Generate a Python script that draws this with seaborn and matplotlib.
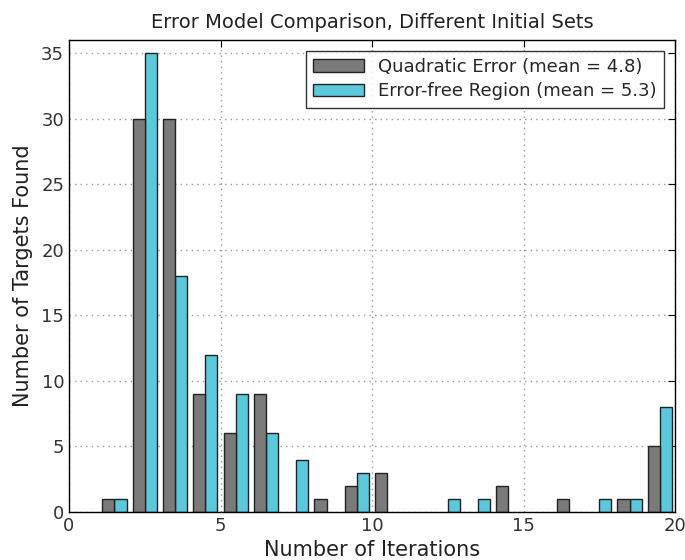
import numpy as np
import pandas as pd
import matplotlib
matplotlib.use('Agg')
from matplotlib import pyplot as plt
import seaborn as sns

sns.set_style('white')
plt.rcParams['font.family'] = ['DejaVu Sans']

# histogram bins: integer iteration counts, bin left edges 1..19
bin_left = list(range(1, 20))
quadratic_counts = [1, 30, 30, 9, 6, 9, 0, 1, 2, 3, 0, 0, 0, 2, 0, 1, 0, 1, 5]
errorfree_counts = [1, 35, 18, 12, 9, 6, 4, 0, 3, 0, 0, 1, 1, 0, 0, 0, 1, 1, 8]
labels = ['Quadratic Error (mean = 4.8)', 'Error-free Region (mean = 5.3)']
colors = ['#7a7a7a', '#5bc8dc']

rows = []
for lab, counts in zip(labels, [quadratic_counts, errorfree_counts]):
    for b, c in zip(bin_left, counts):
        rows.append({'iter': b + 0.5, 'count': c, 'model': lab})
df = pd.DataFrame(rows)

fig = plt.figure(figsize=(6.85, 5.6), dpi=100)
ax = fig.add_axes([69 / 685, 1 - 512 / 560, 606 / 685, 472 / 560])

sns.histplot(data=df, x='iter', weights='count', hue='model', hue_order=labels,
             palette=colors, multiple='dodge', bins=19, binrange=(1, 20), shrink=0.8,
             alpha=1, edgecolor='#222222', linewidth=1.0, ax=ax)

# hide empty bins
for p in ax.patches:
    if p.get_height() == 0:
        p.set_visible(False)

ax.set_xlim(0, 20)
ax.set_ylim(0, 36)
ax.set_xticks([0, 5, 10, 15, 20])
ax.set_yticks(range(0, 36, 5))
ax.grid(True, linestyle=(0, (1, 3)), color='#999999', linewidth=1)
ax.set_axisbelow(True)
ax.tick_params(direction='in', top=True, right=True, labelsize=13, length=5, colors='black')
for tl in ax.get_xticklabels() + ax.get_yticklabels():
    tl.set_color('#333333')
for s in ax.spines.values():
    s.set_color('black')
    s.set_linewidth(1)

ax.set_title('Error Model Comparison, Different Initial Sets', fontsize=14, color='#222222', pad=9)
ax.set_xlabel('Number of Iterations', fontsize=15, color='#222222', labelpad=4)
ax.set_ylabel('Number of Targets Found', fontsize=15, color='#222222', labelpad=6)

sns.move_legend(ax, 'upper right', title=None, fontsize=13, frameon=True,
                fancybox=False, edgecolor='black', borderaxespad=0.6,
                handlelength=2.8, labelspacing=0.35)
ax.get_legend().get_frame().set_linewidth(1)

fig.savefig('out.png', dpi=100)
